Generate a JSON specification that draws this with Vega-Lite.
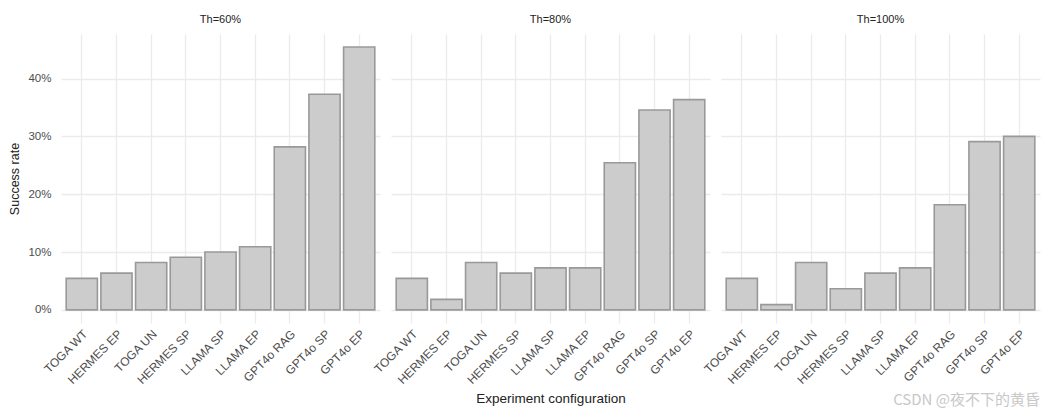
{
  "$schema": "https://vega.github.io/schema/vega-lite/v6.json",
  "background": "white",
  "padding": {"left": 8, "top": 14, "right": 10, "bottom": 5},
  "title": {"text": "CSDN @夜不下的黄昏", "orient": "bottom", "anchor": "end", "font": "Noto Sans CJK SC", "fontSize": 15, "fontWeight": "normal", "color": "#c8c8c8", "offset": -13},
  "data": {"values": [
    {"th": "Th=60%", "config": "TOGA WT", "rate": 0.0545},
    {"th": "Th=60%", "config": "HERMES EP", "rate": 0.0636},
    {"th": "Th=60%", "config": "TOGA UN", "rate": 0.0818},
    {"th": "Th=60%", "config": "HERMES SP", "rate": 0.0909},
    {"th": "Th=60%", "config": "LLAMA SP", "rate": 0.1000},
    {"th": "Th=60%", "config": "LLAMA EP", "rate": 0.1091},
    {"th": "Th=60%", "config": "GPT4o RAG", "rate": 0.2818},
    {"th": "Th=60%", "config": "GPT4o SP", "rate": 0.3727},
    {"th": "Th=60%", "config": "GPT4o EP", "rate": 0.4545},
    {"th": "Th=80%", "config": "TOGA WT", "rate": 0.0545},
    {"th": "Th=80%", "config": "HERMES EP", "rate": 0.0182},
    {"th": "Th=80%", "config": "TOGA UN", "rate": 0.0818},
    {"th": "Th=80%", "config": "HERMES SP", "rate": 0.0636},
    {"th": "Th=80%", "config": "LLAMA SP", "rate": 0.0727},
    {"th": "Th=80%", "config": "LLAMA EP", "rate": 0.0727},
    {"th": "Th=80%", "config": "GPT4o RAG", "rate": 0.2545},
    {"th": "Th=80%", "config": "GPT4o SP", "rate": 0.3455},
    {"th": "Th=80%", "config": "GPT4o EP", "rate": 0.3636},
    {"th": "Th=100%", "config": "TOGA WT", "rate": 0.0545},
    {"th": "Th=100%", "config": "HERMES EP", "rate": 0.0091},
    {"th": "Th=100%", "config": "TOGA UN", "rate": 0.0818},
    {"th": "Th=100%", "config": "HERMES SP", "rate": 0.0364},
    {"th": "Th=100%", "config": "LLAMA SP", "rate": 0.0636},
    {"th": "Th=100%", "config": "LLAMA EP", "rate": 0.0727},
    {"th": "Th=100%", "config": "GPT4o RAG", "rate": 0.1818},
    {"th": "Th=100%", "config": "GPT4o SP", "rate": 0.2909},
    {"th": "Th=100%", "config": "GPT4o EP", "rate": 0.3000}
  ]},
  "facet": {
    "column": {
      "field": "th", "type": "nominal",
      "sort": ["Th=60%", "Th=80%", "Th=100%"],
      "header": {
        "title": "Experiment configuration",
        "titleOrient": "bottom",
        "titleFont": "Liberation Sans",
        "titleFontSize": 13.5,
        "titleFontWeight": "normal",
        "titleColor": "#222222",
        "titlePadding": -4,
        "labelOrient": "top",
        "labelFont": "Liberation Sans",
        "labelFontSize": 11,
        "labelColor": "#222222",
        "labelPadding": 9
      }
    }
  },
  "spacing": 11,
  "spec": {
    "width": 319,
    "height": 289,
    "mark": {"type": "bar", "fill": "#cccccc", "stroke": "#999999", "strokeWidth": 1.6},
    "encoding": {
      "x": {
        "field": "config", "type": "nominal",
        "sort": ["TOGA WT", "HERMES EP", "TOGA UN", "HERMES SP", "LLAMA SP", "LLAMA EP", "GPT4o RAG", "GPT4o SP", "GPT4o EP"],
        "scale": {"paddingInner": 0.1, "paddingOuter": 0.15},
        "axis": {"title": null, "labelAngle": -45, "bandPosition": 0.5, "labelPadding": 5, "labelFontSize": 12}
      },
      "y": {
        "field": "rate", "type": "quantitative",
        "scale": {"domain": [-0.0227, 0.477], "nice": false},
        "axis": {"format": ".0%", "values": [0, 0.1, 0.2, 0.3, 0.4], "title": "Success rate", "titlePadding": 6, "labelPadding": 10, "labelFontSize": 11.5}
      }
    }
  },
  "config": {
    "view": {"stroke": null},
    "axis": {
      "domain": false,
      "ticks": false,
      "grid": true,
      "gridColor": "#ebebeb",
      "gridWidth": 1.3,
      "labelColor": "#4d4d4d",
      "labelFont": "Liberation Sans",
      "titleFont": "Liberation Sans",
      "titleFontSize": 12.5,
      "titleFontWeight": "normal",
      "titleColor": "#222222"
    }
  }
}
